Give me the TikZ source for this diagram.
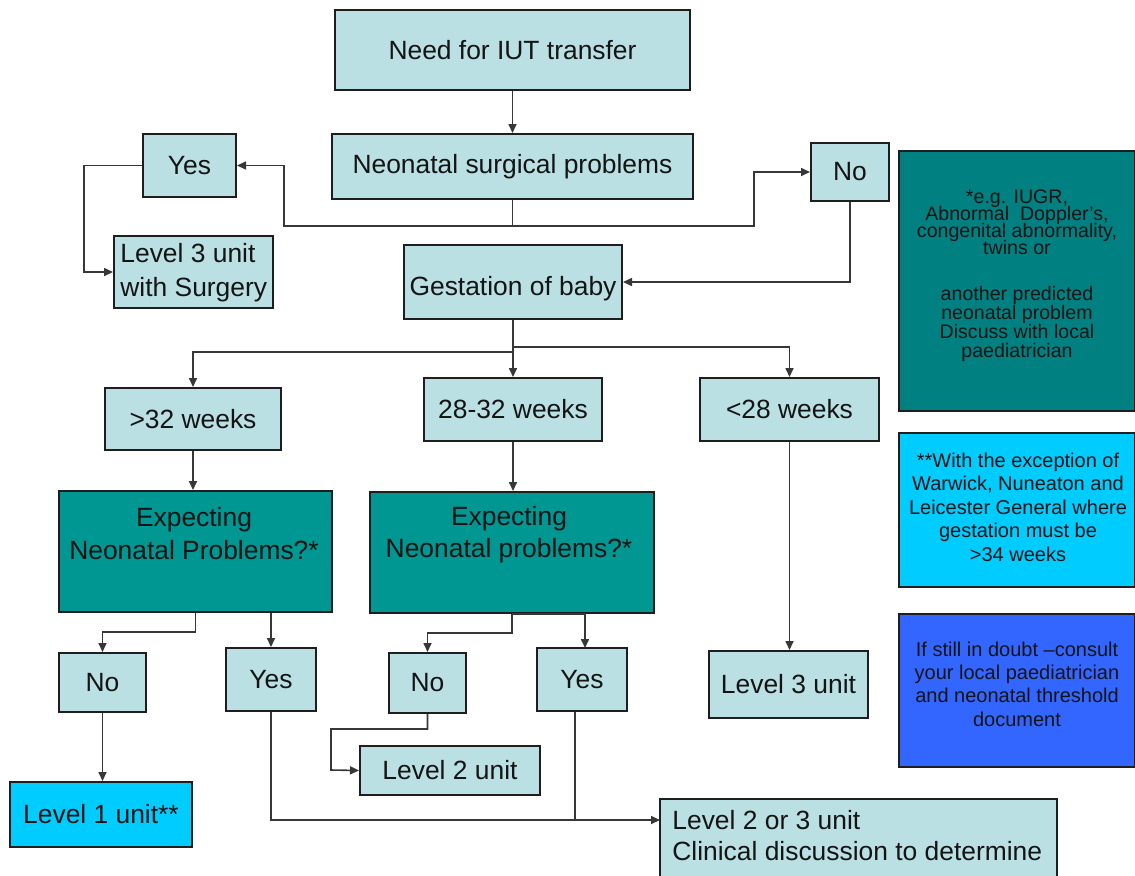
\documentclass[tikz,border=0pt]{standalone}
\usepackage{fontspec}
\setmainfont{Liberation Sans}
\usetikzlibrary{arrows.meta,calc}
\definecolor{lbox}{RGB}{186,224,228}
\definecolor{tealexp}{RGB}{0,150,146}
\definecolor{tealnote}{RGB}{0,128,128}
\definecolor{cyannote}{RGB}{0,204,255}
\definecolor{bluenote}{RGB}{51,102,255}
\definecolor{bordc}{RGB}{30,30,30}
\definecolor{linec}{RGB}{55,55,55}
\definecolor{txt}{RGB}{20,20,20}
\newcommand{\tightnotelines}{\setlength{\lineskiplimit}{-10pt}\setlength{\lineskip}{0pt}}
\tikzset{
  box/.style={draw=bordc, line width=1pt, fill=lbox, inner sep=0pt, text=txt,
    font=\fontsize{13.2}{16}\selectfont},
  txtn/.style={inner sep=0pt, text=txt, font=\fontsize{13.2}{16}\selectfont},
  notebox/.style={draw=bordc, line width=1pt, inner sep=0pt, minimum width=118pt},
  notetxt/.style={inner sep=0pt, text=txt, align=center},
  conn/.style={draw=linec, line width=0.8pt, -{Triangle[length=4.5pt,width=4pt]}},
  plainln/.style={draw=linec, line width=0.8pt}
}
\begin{document}
\begin{tikzpicture}[x=0.5pt,y=-0.5pt]
\useasboundingbox (0,0) rectangle (1135,875);

% main boxes
\node[box, minimum width=177.5pt, minimum height=40pt] (need) at (512.5,50) {Need for IUT transfer};
\node[box, minimum width=180.5pt, minimum height=32.5pt] (surg) at (512.5,166.5) {Neonatal surgical problems};
\node[box, minimum width=46.5pt, minimum height=31.5pt] (yes1) at (189.5,165.5) {Yes};
\node[box, minimum width=39pt, minimum height=29pt] (no1) at (850,172) {No};
\node[box, minimum width=79.5pt, minimum height=36pt] (l3s) at (193.5,272) {};
\node[txtn, anchor=west, align=left, font=\fontsize{13.2}{17}\selectfont] (l3st) at (120,273) {Level 3 unit\\with Surgery};
\node[box, minimum width=109pt, minimum height=37pt] (gest) at (513,282) {};
\node[txtn] (gestt) at (513,289) {Gestation of baby};

\node[box, minimum width=88pt, minimum height=31pt] (w32) at (193,419) {>32 weeks};
\node[box, minimum width=89pt, minimum height=31.5pt] (w2832) at (513,409.5) {28-32 weeks};
\node[box, minimum width=89.5pt, minimum height=31.5pt] (w28) at (789.5,409.5) {<28 weeks};

\node[box, fill=tealexp, minimum width=136.5pt, minimum height=60.5pt] (exp1) at (195.5,551.5) {};
\node[txtn, align=center, font=\fontsize{13.2}{16.5}\selectfont] (exp1t) at (194,534) {Expecting\\Neonatal Problems?*};
\node[box, fill=tealexp, minimum width=142pt, minimum height=60.5pt] (exp2) at (512,552.5) {};
\node[txtn, align=center, font=\fontsize{13.2}{16}\selectfont] (exp2t) at (509,535) {Expecting\\Neonatal problems?*};

\node[box, minimum width=43.5pt, minimum height=29.5pt] (no2) at (102.5,682.5) {No};
\node[box, minimum width=45pt, minimum height=31.5pt] (yes2) at (271,679.5) {Yes};
\node[box, minimum width=38.5pt, minimum height=30pt] (no3) at (427.5,683) {No};
\node[box, minimum width=45pt, minimum height=31.5pt] (yes3) at (582,679.5) {Yes};
\node[box, minimum width=79.5pt, minimum height=33.5pt] (l3) at (788.5,684.5) {Level 3 unit};
\node[box, minimum width=90pt, minimum height=24.5pt] (l2) at (450,770.5) {Level 2 unit};
\node[box, fill=cyannote, minimum width=91pt, minimum height=32.5pt] (l1) at (101,814.5) {Level 1 unit**};
\node[box, minimum width=198.5pt, minimum height=40pt] (l23) at (858.5,839) {};
\node[txtn, anchor=west, align=left, font=\fontsize{13.2}{15.5}\selectfont] (l23t) at (672,836) {Level 2 or 3 unit\\Clinical discussion to determine};

% notes
\node[notebox, fill=tealnote, minimum height=130pt] (note1) at (1017,281) {};
\node[notetxt, font=\fontsize{9.8}{8.4}\selectfont\tightnotelines] (note1t) at (1017,276)
  {*e.g. IUGR,\\Abnormal\ \ Doppler's,\\congenital abnormality,\\twins or\\[14.5pt]another predicted\\[1.2pt]neonatal problem\\[1.2pt]Discuss with local\\[1.2pt]paediatrician};
\node[notebox, fill=cyannote, minimum height=77pt] (note2) at (1017,510) {};
\node[notetxt, font=\fontsize{10}{11.75}\selectfont] (note2t) at (1018,507)
  {**With the exception of\\Warwick, Nuneaton and\\Leicester General where\\gestation must be\\>34 weeks};
\node[notebox, fill=bluenote, minimum height=76.5pt] (note3) at (1017,690.5) {};
\node[notetxt, font=\fontsize{10}{11.7}\selectfont] (note3t) at (1017,684)
  {If still in doubt –consult\\your local paediatrician\\and neonatal threshold\\document};

% connectors
\draw[conn] (need.south) -- (surg.north);
\draw[conn] (surg.south) |- (284,226) |- (yes1.east);
\draw[conn] (surg.south) |- (754,226) |- (no1.west);
\draw[conn] (yes1.west) -| (84,272) -- (l3s.west);
\draw[conn] (no1.south) |- (gest.east);

\draw[conn] (gest.south) -- (513,352) -| (w32.north);
\draw[conn] (gest.south) -- (w2832.north);
\draw[conn] (gest.south) -- (513,347) -| (w28.north);

\draw[conn] (w32.south) -- (w32.south |- exp1.north);
\draw[conn] (w2832.south) -- (w2832.south |- exp2.north);
\draw[conn] (w28.south) -- (w28.south |- l3.north);

\draw[conn] (exp1.south) -- ++(0,19) -| (no2.north);
\draw[conn] (exp1.south -| yes2.north) -- (yes2.north);
\draw[conn] (exp2.south) -- ++(0,19) -| (no3.north);
\draw[conn] (exp2.south) -- (exp2.south -| 585,0) -- (585,648);

\draw[conn] (no2.south) -- (no2.south |- l1.north);
\draw[conn] (yes2.south) |- (660,820);
\draw[plainln] ($(yes3.south)+(-7,0)$) -- ++(0,107);
\draw[conn] (no3.south) -- ++(0,15) -| (331,770) -- (l2.west);
\end{tikzpicture}
\end{document}
